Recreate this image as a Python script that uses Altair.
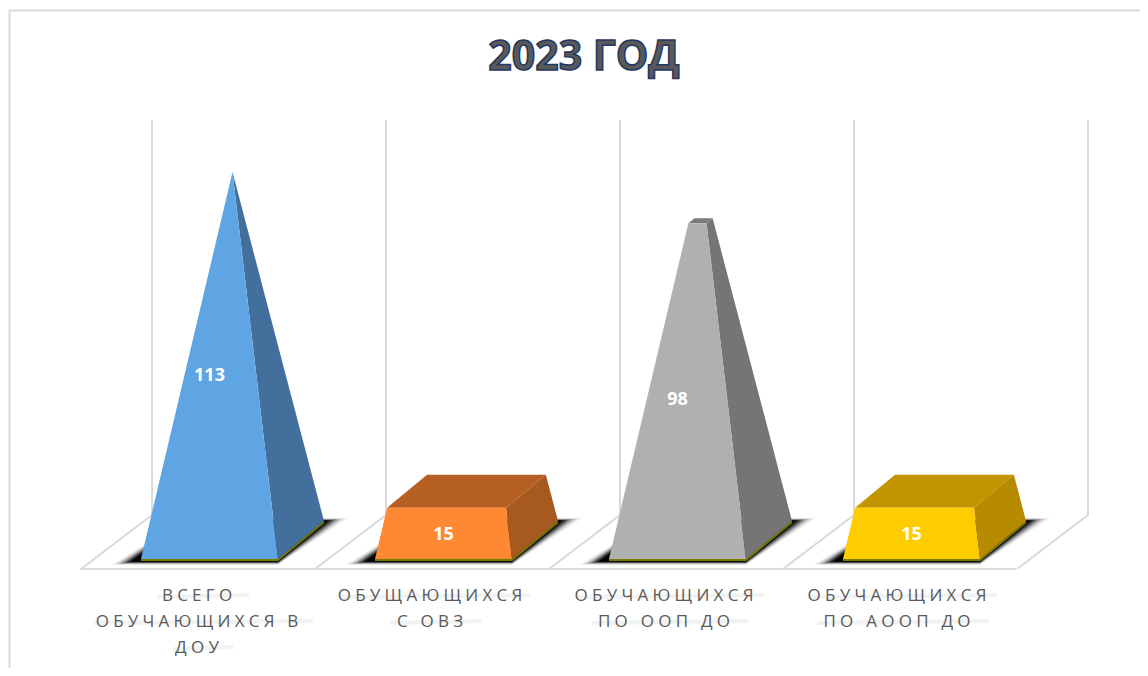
import altair as alt
import pandas as pd

title_text = "2023 ГОД"
values = [113, 15, 98, 15]
value_labels = ["113", "15", "98", "15"]
label_lines = [["ВСЕГО", "ОБУЧАЮЩИХСЯ В", "ДОУ"],
               ["ОБУЩАЮЩИХСЯ", "С ОВЗ"],
               ["ОБУЧАЮЩИХСЯ", "ПО ООП ДО"],
               ["ОБУЧАЮЩИХСЯ", "ПО АООП ДО"]]
front_colors = ["#60a5e3", "#ff8833", "#b0b0b0", "#ffcc00"]
side_colors = ["#426f9c", "#a65a1f", "#757575", "#b78b00"]
top_colors = ["#426f9c", "#b55f23", "#7a7a7a", "#c29400"]

Y_MAX = 113
BASE_Y, APEX_Y = 559, 172
BACK_Y = 521
DEPTH = 46
WIDTH = 137
SLOT = 234
FIRST = 141
LABEL_K = 1.62
SP = "\u2005"


def spaced(s):
    return SP.join(s)


shadow_rows, face_rows, edge_rows = [], [], []


def poly_rows(name, color, pts, store, opacity=1.0):
    key = f"{len({r['face'] for r in store}):04d}{name}"
    for i, (x, y) in enumerate(pts):
        store.append(dict(face=key, color=color, i=i, x=x, y=y, op=opacity))


for n, v in enumerate(values):
    x0 = FIRST + n * SLOT
    x1 = x0 + WIDTH
    ax = (x0 + x1) / 2 + DEPTH / 2
    f = v / Y_MAX

    def lerp(a, b):
        return a + (b - a) * f

    # soft contact shadow: nested parallelograms, darkest in the middle
    for d, op in ((24, 0.05), (21, 0.08), (18, 0.12), (15, 0.2), (12, 0.3), (9, 0.45), (6, 0.7), (3, 1.0)):
        poly_rows(f"s{n}{d}", "#000000",
                  [(x0 - d - 6, 561 + d / 6), (x1, 561 + d / 6),
                   (x1 + DEPTH + d, BACK_Y - d / 8), (x0 + DEPTH, BACK_Y - d / 8)], shadow_rows, op)
    edge_rows += [dict(k=n, i=0, x=x0, y=BASE_Y + 1), dict(k=n, i=1, x=x1, y=BASE_Y + 1),
                  dict(k=n, i=2, x=x1 + DEPTH, y=BACK_Y + 1)]
    fl = (lerp(x0, ax), lerp(BASE_Y, APEX_Y))
    fr = (lerp(x1, ax), lerp(BASE_Y, APEX_Y))
    bl = (lerp(x0 + DEPTH, ax), lerp(BACK_Y, APEX_Y))
    br = (lerp(x1 + DEPTH, ax), lerp(BACK_Y, APEX_Y))
    poly_rows(f"t{n}", top_colors[n], [fl, fr, br, bl], face_rows)
    poly_rows(f"r{n}", side_colors[n], [(x1, BASE_Y), (x1 + DEPTH, BACK_Y), br, fr], face_rows)
    poly_rows(f"f{n}", front_colors[n], [(x0, BASE_Y), (x1, BASE_Y), fr, fl], face_rows)

shadow_df = pd.DataFrame(shadow_rows)
face_df = pd.DataFrame(face_rows)
edge_df = pd.DataFrame(edge_rows)

X = alt.X("x:Q", scale=alt.Scale(domain=[8, 1140], nice=False, zero=False), axis=None)
Y = alt.Y("y:Q", scale=alt.Scale(domain=[8, 668], nice=False, zero=False, reverse=True), axis=None)

grid_rows = []
for n in range(5):
    wx = 152 + n * SLOT
    grid_rows += [dict(k=f"w{n}", i=0, x=wx, y=120), dict(k=f"w{n}", i=1, x=wx, y=515),
                  dict(k=f"w{n}", i=2, x=wx - 71, y=569)]
grid_rows += [dict(k="front", i=0, x=80, y=569), dict(k="front", i=1, x=1016, y=569)]
grid_df = pd.DataFrame(grid_rows)
frame_df = pd.DataFrame([dict(k="f", i=0, x=9.5, y=668), dict(k="f", i=1, x=9.5, y=10.5),
                         dict(k="f", i=2, x=1140, y=10.5)])


def lines(df, color, width, opacity=1.0):
    return alt.Chart(df).mark_line(color=color, strokeWidth=width, opacity=opacity, interpolate="linear").encode(
        x=X, y=Y, detail="k:N", order="i:Q")


def filled(df):
    return alt.Chart(df).mark_line(filled=True, strokeWidth=0, interpolate="linear").encode(
        x=X, y=Y, detail="face:N", order="i:Q",
        fill=alt.Fill("color:N", scale=None), opacity=alt.Opacity("op:Q", scale=None))


CENTERS = [197, 430, 664, 897]
LINE_Y = [596, 622, 648]
text_rows, streak_rows = [], []
for n, ls in enumerate(label_lines):
    for j, s in enumerate(ls):
        text_rows.append(dict(x=CENTERS[n], y=LINE_Y[j], t=spaced(s)))
        half = len(s) * 8
        streak_rows += [dict(k=f"{n}{j}", i=0, x=CENTERS[n] - half, y=LINE_Y[j] + 1),
                        dict(k=f"{n}{j}", i=1, x=CENTERS[n] + half + 12, y=LINE_Y[j] - 1)]
text_df = pd.DataFrame(text_rows)
streak_df = pd.DataFrame(streak_rows)

value_df = pd.DataFrame([dict(x=FIRST + n * SLOT + WIDTH / 2, y=BASE_Y - v * LABEL_K, t=value_labels[n])
                         for n, v in enumerate(values)])
title_df = pd.DataFrame([dict(x=584, y=58, t=title_text)])

title_mark = alt.Chart(title_df).mark_text(font="Open Sans", fontWeight="bold", fontSize=41, color="#595959",
                                           stroke="#1f3864", strokeWidth=1.5, align="center",
                                           baseline="middle").encode(x=X, y=Y, text="t:N")
cat_mark = alt.Chart(text_df).mark_text(font="Open Sans", fontSize=17, color="#595959", align="center",
                                        baseline="middle").encode(x=X, y=Y, text="t:N")
val_mark = alt.Chart(value_df).mark_text(font="Open Sans", fontWeight="bold", fontSize=18, color="#ffffff",
                                         align="center", baseline="middle").encode(x=X, y=Y, text="t:N")

chart = alt.layer(
    lines(frame_df, "#d9d9d9", 2),
    lines(grid_df, "#d9d9d9", 2),
    filled(shadow_df),
    lines(edge_df, "#7a7a00", 2),
    filled(face_df),
    lines(streak_df, "#e6e6e6", 4, 0.5),
    cat_mark, val_mark, title_mark,
).properties(width=1132, height=660, padding=0,
             autosize=alt.AutoSizeParams(type="none"),
             background="#ffffff").configure_view(stroke=None)

chart.save("out.html", embed_options={"renderer": "svg", "actions": False})
